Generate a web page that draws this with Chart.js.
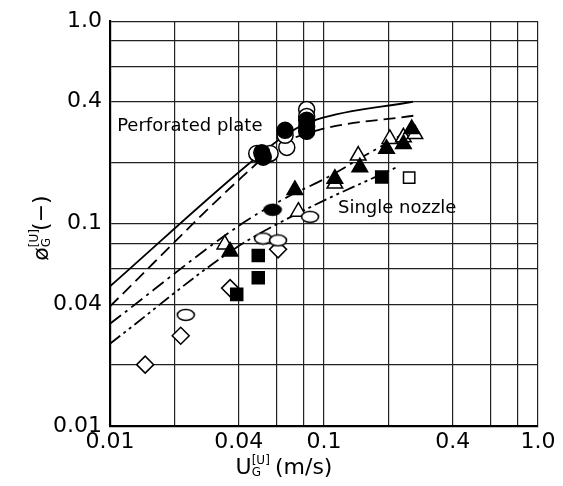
<!DOCTYPE html>
<html>
<head>
<meta charset="utf-8">
<script src="https://cdn.jsdelivr.net/npm/chart.js@4.4.1/dist/chart.umd.min.js"></script>
<style>
  html, body { margin: 0; padding: 0; background: #fff; }
  canvas { display: block; }
</style>
</head>
<body>
<canvas id="chart" width="563" height="486"></canvas>
<script>
// grid lines and labelled ticks (same on both log axes)
const gridTicks = [0.01, 0.02, 0.04, 0.06, 0.08, 0.1, 0.2, 0.4, 0.6, 0.8, 1];
const tickLabels = { 0.01: '0.01', 0.04: '0.04', 0.1: '0.1', 0.4: '0.4', 1: '1.0' };

// correlation curves
const solidX = [0.01, 0.048, 0.069, 0.093, 0.26];
const solidY = [0.049, 0.211, 0.282, 0.327, 0.40];
const dashedX = [0.01, 0.0414, 0.0622, 0.093, 0.266];
const dashedY = [0.039, 0.17, 0.244, 0.289, 0.342];
const dashDotX = [0.01, 0.0414, 0.0637, 0.1045, 0.159, 0.252];
const dashDotY = [0.032, 0.1, 0.131, 0.17, 0.22, 0.289];
const dashDotDotX = [0.01, 0.0384, 0.0815, 0.219];
const dashDotDotY = [0.0255, 0.0754, 0.117, 0.19];

// perforated plate data
const openCircleX = [0.0485, 0.053, 0.056, 0.067, 0.0658, 0.083, 0.083];
const openCircleY = [0.222, 0.217, 0.222, 0.238, 0.273, 0.366, 0.338];
const fillCircleX = [0.0512, 0.052, 0.0658, 0.083, 0.083, 0.083];
const fillCircleY = [0.224, 0.213, 0.289, 0.324, 0.302, 0.286];

// single nozzle data
const openEllipseX = [0.0226, 0.0519, 0.061, 0.0861];
const openEllipseY = [0.0354, 0.0844, 0.0826, 0.108];
const fillEllipseX = [0.0575];
const fillEllipseY = [0.117];
const openDiamondX = [0.0146, 0.0214, 0.0364, 0.061];
const openDiamondY = [0.0201, 0.0279, 0.048, 0.0746];
const fillTriX = [0.0364, 0.0731, 0.1124, 0.147, 0.196, 0.235, 0.257];
const fillTriY = [0.0729, 0.1467, 0.1667, 0.19, 0.234, 0.2475, 0.293];
const openTriX = [0.0344, 0.0759, 0.1124, 0.1445, 0.203, 0.235, 0.266];
const openTriY = [0.0789, 0.1145, 0.1577, 0.217, 0.262, 0.267, 0.277];
const fillSquareX = [0.0391, 0.0493, 0.0493, 0.186];
const fillSquareY = [0.0447, 0.054, 0.0695, 0.17];
const openSquareX = [0.25];
const openSquareY = [0.1686];

function zip(xs, ys) {
    return xs.map((x, i) => ({ x: x, y: ys[i] }));
}

function ellipseMarker(filled) {
    const c = document.createElement('canvas');
    c.width = 20;
    c.height = 14;
    const g = c.getContext('2d');
    g.beginPath();
    g.ellipse(10, 7, 8.5, 5.5, 0, 0, 2 * Math.PI);
    g.fillStyle = filled ? '#000' : '#fff';
    g.fill();
    g.lineWidth = 1.6;
    g.strokeStyle = '#000';
    g.stroke();
    return c;
}

function curve(xs, ys, dash) {
    return {
        data: zip(xs, ys),
        showLine: true,
        borderColor: '#000',
        borderWidth: 1.8,
        borderDash: dash,
        pointRadius: 0,
        cubicInterpolationMode: 'monotone',
        order: 2
    };
}

function marks(xs, ys, style, filled, radius) {
    return {
        data: zip(xs, ys),
        showLine: false,
        pointStyle: style,
        pointRadius: radius,
        pointBackgroundColor: filled ? '#000' : '#fff',
        pointBorderColor: '#000',
        pointBorderWidth: 1.5,
        order: 1
    };
}

const FONT = '"DejaVu Sans", sans-serif';

// sub/superscripted axis titles and the two curve labels
const textPlugin = {
    id: 'texts',
    afterDraw(chart) {
        const ctx = chart.ctx;
        const xs = chart.scales.x, ys = chart.scales.y;

        function runs(parts) {
            let w = 0;
            parts.forEach(p => {
                ctx.font = p.size + 'px ' + FONT;
                p.w = ctx.measureText(p.t).width;
                if (!p.stack) w += p.w;
            });
            let x = -w / 2, last = 0;
            parts.forEach(p => {
                ctx.font = p.size + 'px ' + FONT;
                const px = p.stack ? last : x;
                ctx.fillText(p.t, px, p.dy || 0);
                if (!p.stack) { last = x; x += p.w; }
            });
        }

        ctx.save();
        ctx.fillStyle = '#000';
        ctx.textBaseline = 'middle';
        ctx.textAlign = 'left';

        ctx.font = '18px ' + FONT;
        ctx.fillText('Perforated plate', xs.getPixelForValue(0.0108), ys.getPixelForValue(0.302));
        ctx.fillText('Single nozzle', xs.getPixelForValue(0.1162), ys.getPixelForValue(0.1185));

        // x title
        ctx.save();
        ctx.translate(284, 468);
        runs([
            { t: 'U', size: 22 },
            { t: 'G', size: 12, dy: 5 },
            { t: '[U]', size: 12, dy: -7, stack: true },
            { t: '  (m/s)', size: 22 }
        ]);
        ctx.restore();

        // y title
        ctx.save();
        ctx.translate(42, 228);
        ctx.rotate(-Math.PI / 2);
        runs([
            { t: 'ø', size: 22 },
            { t: 'G', size: 12, dy: 5 },
            { t: '[U]', size: 12, dy: -7, stack: true },
            { t: ' (−)', size: 22 }
        ]);
        ctx.restore();

        ctx.restore();
    }
};

function axis(width, height) {
    return {
        type: 'logarithmic',
        min: 0.01,
        max: 1,
        afterBuildTicks: s => { s.ticks = gridTicks.map(v => ({ value: v })); },
        afterFit: s => {
            if (width) s.width = width;
            if (height) s.height = height;
        },
        grid: { color: '#222', lineWidth: 1.2, drawTicks: false },
        border: { color: '#000', width: 2.2 },
        ticks: {
            autoSkip: false,
            maxRotation: 0,
            color: '#000',
            font: { family: FONT, size: 22 },
            callback: v => tickLabels[v] || ''
        }
    };
}

const xAxis = axis(0, 60);
xAxis.ticks.padding = 3;
const yAxis = axis(110, 0);
yAxis.ticks.padding = 8;

// lower index is drawn on top: filled marks over open ones
new Chart(document.getElementById('chart'), {
    type: 'scatter',
    data: {
        datasets: [
            curve(solidX, solidY, []),
            curve(dashedX, dashedY, [12, 6]),
            curve(dashDotX, dashDotY, [14, 5, 3, 5]),
            curve(dashDotDotX, dashDotDotY, [13, 4, 3, 4, 3, 4]),
            marks(fillCircleX, fillCircleY, 'circle', true, 8),
            marks(openCircleX, openCircleY, 'circle', false, 8),
            marks(fillEllipseX, fillEllipseY, ellipseMarker(true), true, 6),
            marks(openEllipseX, openEllipseY, ellipseMarker(false), false, 6),
            marks(fillSquareX, fillSquareY, 'rect', true, 8.5),
            marks(openSquareX, openSquareY, 'rect', false, 8),
            marks(fillTriX, fillTriY, 'triangle', true, 9),
            marks(openTriX, openTriY, 'triangle', false, 9),
            marks(openDiamondX, openDiamondY, 'rectRot', false, 8.5)
        ]
    },
    options: {
        responsive: false,
        animation: false,
        layout: { padding: { left: 0, right: 25, top: 18, bottom: 0 } },
        plugins: { legend: { display: false }, tooltip: { enabled: false } },
        scales: { x: xAxis, y: yAxis }
    },
    plugins: [textPlugin]
});
</script>
</body>
</html>
